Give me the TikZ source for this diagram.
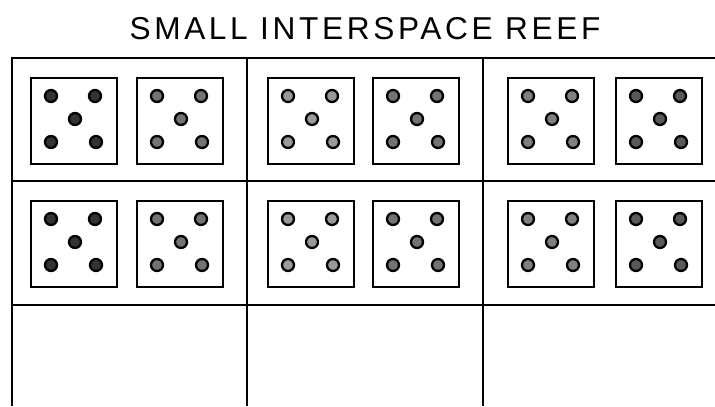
\documentclass[tikz,border=0pt]{standalone}
\usepackage{fontspec}
\newfontfamily\titlefont[LetterSpace=11.5]{Liberation Sans}
\usetikzlibrary{positioning}

\begin{document}
\begin{tikzpicture}[
        x=0.02cm, y=-0.02cm,
        outerline/.style={line width=1.6pt},
        gridline/.style={line width=1.3pt},
        module/.style={rectangle, draw, line width=0.8pt, minimum size=1.72cm, inner sep=0pt},
        coral/.style={circle, draw, line width=1.3pt, minimum size=0.24cm, inner sep=0pt}
    ]
    \useasboundingbox (0,0) rectangle (715,406);

    \node[font=\titlefont\fontsize{18}{20}\selectfont, anchor=base] (title) at (365,39) {SMALL INTERSPACE REEF};

    % grid of the reef cells
    \draw[outerline] (715,58) -- (12,58) -- (12,406);
    \foreach \x in {247,483}
        \draw[gridline] (\x,58) -- (\x,406);
    \foreach \y in {181,305}
        \draw[gridline] (12,\y) -- (715,\y);

    % modules with five corals each
    \foreach \r/\y in {1/121, 2/244} {
        \foreach \c/\x/\g in {1/74/80, 2/180/55, 3/311/40, 4/416/55, 5/551/50, 6/659/65} {
            \node[module] (m\r\c) at (\x,\y) {};
            \foreach \dx/\dy in {-23/-25, 21/-25, 1/-2, -23/21, 22/21}
                \node[coral, fill=black!\g] at ([shift={(\dx,\dy)}]m\r\c.center) {};
        }
    }

\end{tikzpicture}
\end{document}
